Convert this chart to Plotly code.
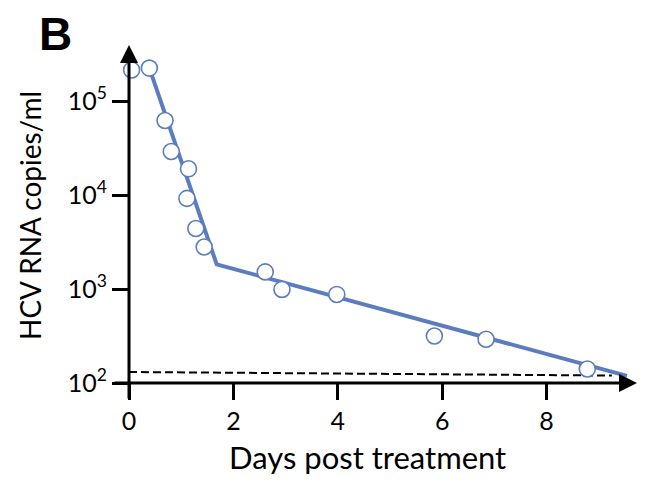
import plotly.graph_objects as go

# Data
days = [0.05, 0.39, 0.69, 0.81, 1.14, 1.11, 1.28, 1.44, 2.61, 2.93, 3.98, 5.85, 6.84, 8.78]
copies = [2.14e5, 2.24e5, 6.2e4, 2.9e4, 1.9e4, 9.2e3, 4.4e3, 2.8e3, 1.52e3, 990, 875, 316, 292, 141]

fit_days = [0.39, 1.68, 9.54]
fit_copies = [2.24e5, 1.83e3, 119]

limit_days = [0.0, 9.25]
limit_copies = [131, 120]

x_ticks = [0, 2, 4, 6, 8]
y_ticks = [1e2, 1e3, 1e4, 1e5]
y_tick_text = ["10<sup>2</sup>", "10<sup>3</sup>", "10<sup>4</sup>", "10<sup>5</sup>"]

BLUE = "#5B7DBF"
FONT = "Lato"

fig = go.Figure()
fig.add_trace(go.Scatter(x=limit_days, y=limit_copies, mode="lines",
                         line=dict(color="black", width=2, dash="8px,4px"),
                         hoverinfo="skip", cliponaxis=False))
fig.add_trace(go.Scatter(x=fit_days, y=fit_copies, mode="lines",
                         line=dict(color=BLUE, width=4), cliponaxis=False))
fig.add_trace(go.Scatter(x=days, y=copies, mode="markers",
                         marker=dict(size=16, color="white", line=dict(color=BLUE, width=1.6)),
                         cliponaxis=False))

# the page body adds an 8px offset, so the figure is laid out 8px up/left
OFF = 8
W, H = 637, 481
L, R, T, B = 121, 8, 37, 106
pw, ph = W - L - R, H - T - B

def px(xw):
    return (xw - OFF - L) / pw

def py(yw):
    return (H - B - (yw - OFF)) / ph

fig.update_layout(
    width=W, height=H,
    margin=dict(l=L, r=R, t=T, b=B),
    paper_bgcolor="white", plot_bgcolor="white",
    showlegend=False,
    font=dict(family=FONT, color="black", size=25),
    xaxis=dict(range=[0, pw / 52.2], tickvals=x_ticks, ticks="outside", ticklen=16,
               tickwidth=3, tickcolor="black", showgrid=False, zeroline=False,
               showline=False, automargin=False, tickfont=dict(size=25, family=FONT)),
    yaxis=dict(type="log", range=[2, 2 + ph / 94.0], tickvals=y_ticks, ticktext=y_tick_text,
               ticks="outside", ticklen=16, tickwidth=3, tickcolor="black",
               showgrid=False, zeroline=False, showline=False, automargin=False,
               tickfont=dict(size=25, family=FONT)),
)

# axis lines with arrowheads
fig.add_annotation(x=1, y=0, xref="paper", yref="paper", ax=-524, ay=0,
                   showarrow=True, arrowhead=2, arrowsize=1.2, arrowwidth=3,
                   arrowcolor="black", text="", standoff=0)
fig.add_annotation(x=0, y=1, xref="paper", yref="paper", ax=0, ay=355,
                   showarrow=True, arrowhead=2, arrowsize=1.2, arrowwidth=3,
                   arrowcolor="black", text="", standoff=0)

# axis titles
fig.add_annotation(x=px(367), y=py(457), xref="paper", yref="paper",
                   text="Days post treatment", showarrow=False,
                   xanchor="center", yanchor="middle",
                   font=dict(size=31, family=FONT, color="black"))
fig.add_annotation(x=px(30), y=py(216), xref="paper", yref="paper",
                   text="HCV RNA copies/ml", showarrow=False, textangle=-90,
                   xanchor="center", yanchor="middle",
                   font=dict(size=28, family=FONT, color="black"))

# panel letter
fig.add_annotation(x=px(55), y=py(34), xref="paper", yref="paper", text="<b>B</b>",
                   showarrow=False, xanchor="center", yanchor="middle", borderpad=0,
                   font=dict(size=46, family="Liberation Sans", color="black"))

fig.write_html("out.html")
